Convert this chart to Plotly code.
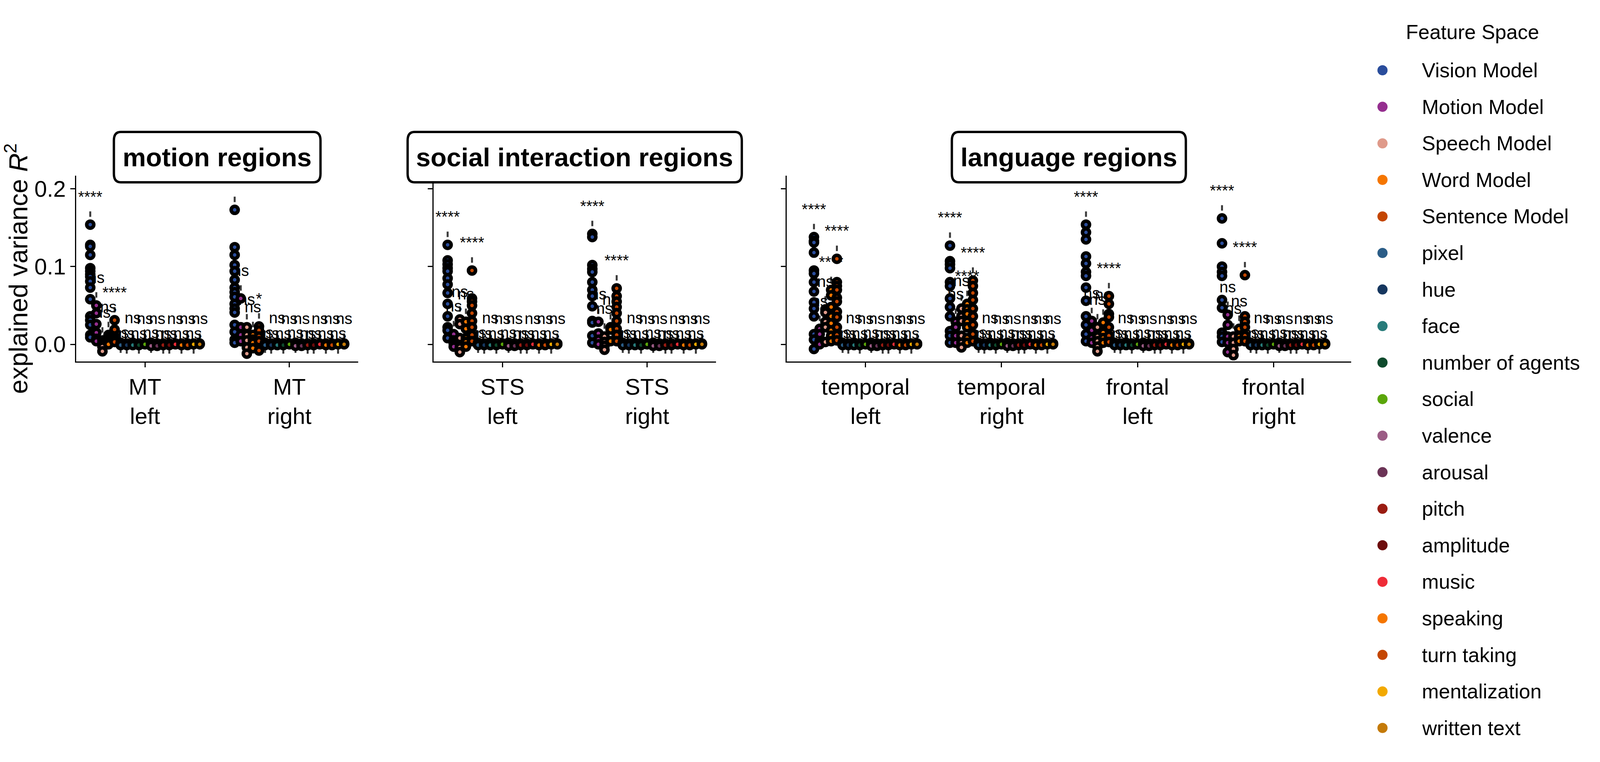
import plotly.graph_objects as go

# ---- data ------------------------------------------------------------------
features = [
    "Vision Model", "Motion Model", "Speech Model", "Word Model", "Sentence Model",
    "pixel", "hue", "face", "number of agents", "social", "valence", "arousal",
    "pitch", "amplitude", "music", "speaking", "turn taking", "mentalization",
    "written text",
]
colors = [
    "#2a4d9c", "#952e8f", "#df9a8a", "#f57600", "#c44601",
    "#2b5d87", "#16375f", "#277b7a", "#0e4a2c", "#5aa60a", "#9b5c85", "#6b3356",
    "#9a1c12", "#6c0b0b", "#ee2c37", "#f57600", "#c44601", "#f2a900",
    "#c47a08",
]

panel_titles = ["motion regions", "social interaction regions", "language regions"]
panel_regions = [
    ["MT left", "MT right"],
    ["STS left", "STS right"],
    ["temporal left", "temporal right", "frontal left", "frontal right"],
]

vision = {
    "MT left": [0.154, 0.128, 0.126, 0.115, 0.098, 0.094, 0.090, 0.087, 0.081, 0.073, 0.058, 0.036, 0.031, 0.025, 0.012, 0.009],
    "MT right": [0.173, 0.125, 0.115, 0.102, 0.094, 0.083, 0.073, 0.067, 0.061, 0.052, 0.046, 0.041, 0.025, 0.016, 0.006, 0.002],
    "STS left": [0.128, 0.108, 0.103, 0.098, 0.094, 0.085, 0.077, 0.066, 0.052, 0.036, 0.022, 0.018, 0.008],
    "STS right": [0.142, 0.138, 0.102, 0.097, 0.093, 0.080, 0.070, 0.062, 0.049, 0.030, 0.028, 0.011, 0.002],
    "temporal left": [0.138, 0.133, 0.131, 0.118, 0.095, 0.091, 0.080, 0.068, 0.054, 0.046, 0.036, 0.013, 0.006, -0.006],
    "temporal right": [0.127, 0.107, 0.103, 0.098, 0.080, 0.075, 0.059, 0.048, 0.036, 0.017, 0.011, 0.002],
    "frontal left": [0.154, 0.144, 0.135, 0.113, 0.104, 0.093, 0.088, 0.073, 0.056, 0.036, 0.025, 0.013, 0.004],
    "frontal right": [0.162, 0.130, 0.100, 0.093, 0.088, 0.057, 0.047, 0.015, 0.010, 0.003],
}
motion = {
    "MT left": [0.050, 0.040, 0.026, 0.015, 0.007, 0.004],
    "MT right": [0.059, 0.022, 0.012, 0.004],
    "STS left": [0.013, 0.005, 0.001, -0.003],
    "STS right": [0.029, 0.014, 0.006, 0.000],
    "temporal left": [0.020, 0.013, 0.004, 0.000],
    "temporal right": [0.029, 0.022, 0.011, 0.002],
    "frontal left": [0.030, 0.018, 0.008, 0.002],
    "frontal right": [0.038, 0.025, 0.010, 0.002, -0.010],
}
speech = {
    "MT left": [0.005, 0.002, 0.000, -0.003, -0.009],
    "MT right": [0.022, 0.012, 0.005, -0.004, -0.012],
    "STS left": [0.032, 0.026, 0.008, -0.004, -0.010],
    "STS right": [0.010, 0.003, -0.002, -0.007],
    "temporal left": [0.045, 0.041, 0.029, 0.022, 0.003],
    "temporal right": [0.046, 0.036, 0.030, 0.011, 0.002, -0.004],
    "frontal left": [0.022, 0.010, 0.004, -0.003, -0.009],
    "frontal right": [0.010, 0.002, -0.006, -0.014],
}
word = {
    "MT left": [0.012, 0.008, 0.004, 0.002, 0.000],
    "MT right": [0.012, 0.006, 0.002, -0.005],
    "STS left": [0.029, 0.020, 0.008, 0.003, -0.003],
    "STS right": [0.022, 0.019, 0.004],
    "temporal left": [0.070, 0.063, 0.048, 0.036, 0.027, 0.018, 0.011, 0.004],
    "temporal right": [0.052, 0.045, 0.039, 0.029, 0.022, 0.008, 0.002],
    "frontal left": [0.028, 0.015, 0.008, 0.002],
    "frontal right": [0.020, 0.010, 0.004],
}
sentence = {
    "MT left": [0.031, 0.019, 0.010, 0.006, 0.003],
    "MT right": [0.023, 0.018, 0.010, 0.004, -0.008],
    "STS left": [0.095, 0.059, 0.055, 0.050, 0.040, 0.030, 0.022, 0.012, 0.004],
    "STS right": [0.072, 0.062, 0.055, 0.048, 0.040, 0.030, 0.020, 0.012, 0.004],
    "temporal left": [0.110, 0.080, 0.075, 0.070, 0.060, 0.055, 0.042, 0.035, 0.022, 0.012, 0.005],
    "temporal right": [0.082, 0.075, 0.066, 0.057, 0.046, 0.036, 0.025, 0.013, 0.004],
    "frontal left": [0.062, 0.052, 0.039, 0.035, 0.022, 0.011, 0.003],
    "frontal right": [0.089, 0.036, 0.029, 0.022, 0.011, 0.004],
}
# the annotated features sit at zero in every region
simple_feature_vals = {
    "pixel": [0.002, 0.001, 0.000, -0.001],
    "hue": [0.001, 0.000, -0.001],
    "face": [0.002, 0.000, -0.001],
    "number of agents": [0.001, 0.000, -0.001],
    "social": [0.001, 0.000],
    "valence": [0.002, 0.000, -0.002],
    "arousal": [0.001, 0.000, -0.002],
    "pitch": [0.001, 0.000, -0.001],
    "amplitude": [0.001, 0.000, -0.001],
    "music": [0.001, 0.000],
    "speaking": [0.001, 0.000, -0.001],
    "turn taking": [0.001, 0.000, -0.001],
    "mentalization": [0.001, 0.000],
    "written text": [0.001, 0.000],
}
model_sig = {
    "MT left": ["****", "ns", "ns", "ns", "****"],
    "MT right": ["****", "ns", "ns", "ns", "*"],
    "STS left": ["****", "ns", "ns", "ns", "****"],
    "STS right": ["****", "ns", "ns", "ns", "****"],
    "temporal left": ["****", "ns", "ns", "****", "****"],
    "temporal right": ["****", "ns", "ns", "****", "****"],
    "frontal left": ["****", "ns", "ns", "ns", "****"],
    "frontal right": ["****", "ns", "ns", "ns", "****"],
}
model_vals = [vision, motion, speech, word, sentence]


def group_values(region, f):
    if f < 5:
        return model_vals[f][region]
    return simple_feature_vals[features[f]]


def group_label(region, f):
    return model_sig[region][f] if f < 5 else "ns"


# ---- layout: positions as fractions of the reference picture ----------------
W, H = 5142, 1952
FONT = "Liberation Sans, Arial, sans-serif"
panel_px = [(245, 1151), (1393, 2301), (2528, 4342)]
x_ranges = [[-0.476, 1.476], [-0.477, 1.476], [-0.58, 3.57]]
y_top, y_bot = 450, 926
y_range = [-0.0221, 0.217]
dodge = 0.8
upper_row = {7, 9, 11, 14, 16, 18}

tick_size = 58
ytitle_size = 66
label_size = 40
legend_size = 52
title_size = 67


def fx(p):
    return p / W


def fy(p):
    return 1 - p / H


fig = go.Figure()
n_feat = len(features)
offsets = [-dodge / 2 + dodge / n_feat * (i + 0.5) for i in range(n_feat)]

# significance dashes and labels go underneath the points
for p, regions in enumerate(panel_regions):
    ax = "" if p == 0 else str(p + 1)
    dx, dy, tx, ty, tt = [], [], [], [], []
    for r, region in enumerate(regions):
        for f in range(n_feat):
            m = max(group_values(region, f))
            if f < 5:
                yt = m + 0.034
            elif f in upper_row:
                yt = m + 0.030
            else:
                yt = m + 0.011
            x = r + offsets[f]
            dx += [x, x, None]
            dy += [yt - 0.024, yt - 0.017, None]
            tx.append(x)
            ty.append(yt)
            tt.append(group_label(region, f))
    fig.add_trace(go.Scatter(
        x=dx, y=dy, mode="lines", line=dict(color="#3a3a3a", width=5),
        xaxis="x" + ax, yaxis="y" + ax, hoverinfo="skip", cliponaxis=False,
    ))
    fig.add_trace(go.Scatter(
        x=tx, y=ty, mode="text", text=tt, textposition="middle center",
        textfont=dict(size=label_size, color="black", family=FONT),
        xaxis="x" + ax, yaxis="y" + ax, hoverinfo="skip", cliponaxis=False,
    ))

# strip points, one trace per feature and panel
for p, regions in enumerate(panel_regions):
    ax = "" if p == 0 else str(p + 1)
    for f in range(n_feat):
        xs, ys = [], []
        for r, region in enumerate(regions):
            vals = group_values(region, f)
            xs += [r + offsets[f]] * len(vals)
            ys += vals
        fig.add_trace(go.Scatter(
            x=xs, y=ys, mode="markers", name=features[f],
            marker=dict(size=18, color=colors[f], line=dict(color="black", width=9)),
            xaxis="x" + ax, yaxis="y" + ax, cliponaxis=False,
        ))

axis_style = dict(
    showline=True, linecolor="black", linewidth=3, ticks="outside", ticklen=12,
    tickwidth=3, tickcolor="black", showgrid=False, zeroline=False,
    tickfont=dict(size=tick_size, color="black", family=FONT),
)
layout = {}
for p, regions in enumerate(panel_regions):
    ax = "" if p == 0 else str(p + 1)
    x0, x1 = panel_px[p]
    layout["xaxis" + ax] = dict(
        axis_style, domain=[fx(x0), fx(x1)], range=x_ranges[p], anchor="y" + ax,
        tickvals=list(range(len(regions))),
        ticktext=[reg.replace(" ", "<br>") for reg in regions],
    )
    layout["yaxis" + ax] = dict(
        axis_style, domain=[fy(y_bot), fy(y_top)], range=y_range, anchor="x" + ax,
        tickvals=[0, 0.1, 0.2], ticktext=["0.0", "0.1", "0.2"],
        showticklabels=(p == 0),
    )
layout["yaxis"]["title"] = dict(
    text="explained variance <i>R</i><sup>2</sup>",
    font=dict(size=ytitle_size, color="black", family=FONT), standoff=0,
)

# legend drawn in its own hidden axes (reference pixel units)
leg_x0 = 4350
layout["xaxis4"] = dict(domain=[fx(leg_x0), 1], range=[leg_x0, W], visible=False, anchor="y4")
layout["yaxis4"] = dict(domain=[0, 1], range=[H, 0], visible=False, anchor="x4")
leg_y = [180 + i * 93.6 for i in range(n_feat)]
fig.add_trace(go.Scatter(
    x=[4443] * n_feat, y=leg_y, mode="markers",
    marker=dict(size=26, color=colors), xaxis="x4", yaxis="y4", hoverinfo="skip",
))

annotations = [dict(
    text="Feature Space", xref="x4", yref="y4", x=4516, y=82, xanchor="left",
    yanchor="middle", showarrow=False, font=dict(size=legend_size, color="black", family=FONT),
)]
for name, yy in zip(features, leg_y):
    annotations.append(dict(
        text=name, xref="x4", yref="y4", x=4567, y=yy, xanchor="left",
        yanchor="middle", showarrow=False, font=dict(size=legend_size, color="black", family=FONT),
    ))

# rounded title boxes
box_half = [332, 537, 376]
box_top, box_bot, rad = 338, 467, 22
shapes = []
for p, title in enumerate(panel_titles):
    cx = (panel_px[p][0] + panel_px[p][1]) / 2
    a, b = cx - box_half[p], cx + box_half[p]
    X = lambda v: f"{fx(v):.6f}"
    Y = lambda v: f"{fy(v):.6f}"
    path = (
        f"M {X(a + rad)},{Y(box_top)} L {X(b - rad)},{Y(box_top)} "
        f"Q {X(b)},{Y(box_top)} {X(b)},{Y(box_top + rad)} L {X(b)},{Y(box_bot - rad)} "
        f"Q {X(b)},{Y(box_bot)} {X(b - rad)},{Y(box_bot)} L {X(a + rad)},{Y(box_bot)} "
        f"Q {X(a)},{Y(box_bot)} {X(a)},{Y(box_bot - rad)} L {X(a)},{Y(box_top + rad)} "
        f"Q {X(a)},{Y(box_top)} {X(a + rad)},{Y(box_top)} Z"
    )
    shapes.append(dict(type="path", path=path, xref="paper", yref="paper",
                       line=dict(color="black", width=6), fillcolor="white", layer="above"))
    annotations.append(dict(
        text="<b>" + title + "</b>", xref="paper", yref="paper", x=fx(cx),
        y=fy((box_top + box_bot) / 2), xanchor="center", yanchor="middle",
        showarrow=False, font=dict(size=title_size, color="black", family=FONT),
    ))

fig.update_layout(
    autosize=True, margin=dict(l=0, r=0, t=0, b=0),
    paper_bgcolor="white", plot_bgcolor="white", showlegend=False,
    font=dict(family=FONT, color="black"),
    annotations=annotations, shapes=shapes, **layout,
)

# fill the browser window exactly
fit_page = (
    "document.documentElement.style.margin='0';document.body.style.margin='0';"
    "document.body.style.overflow='hidden';"
    "Plotly.Plots.resize(document.getElementById('{plot_id}'));"
)
fig.write_html("out.html", default_width="100vw", default_height="100vh",
               config={"displayModeBar": False}, post_script=fit_page)
